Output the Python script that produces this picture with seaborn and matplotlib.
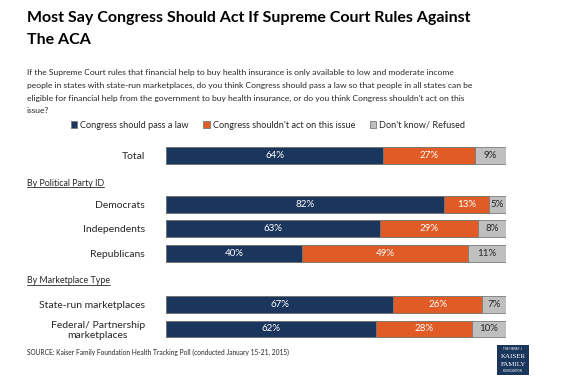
import matplotlib
matplotlib.use("Agg")
import matplotlib.pyplot as plt
import seaborn as sns
from matplotlib.patches import Patch, Rectangle
from matplotlib.lines import Line2D

# Data
groups = ["Total", "Democrats", "Independents", "Republicans",
          "State-run marketplaces", "Federal/ Partnership\nmarketplaces"]
should_pass = [64, 82, 63, 40, 67, 62]
shouldnt_act = [27, 13, 29, 49, 26, 28]
dont_know = [9, 5, 8, 11, 7, 10]
series_names = ["Congress should pass a law", "Congress shouldn't act on this issue",
                "Don't know/ Refused"]
headings = ["By Political Party ID", "By Marketplace Type"]

# layout (row positions on the y axis, with gaps for the section headings)
row_pos = [0, 2, 3, 4, 6.1, 7.1]
heading_pos = [1.14, 5.14]

navy = "#1B365D"
orange = "#E05B25"
grey = "#BFBFBF"
edge = "#7a7a7a"

sns.set_style("white")
plt.rcParams["font.family"] = ["Lato", "DejaVu Sans"]

fig = plt.figure(figsize=(5.7, 3.8), dpi=100)
ax = fig.add_axes([0.291, 0.102, 0.596, 0.522])

# stacked bars: draw cumulative totals back to front
cum2 = [a + b for a, b in zip(should_pass, shouldnt_act)]
cum3 = [a + b + c for a, b, c in zip(should_pass, shouldnt_act, dont_know)]
for vals, col in [(cum3, grey), (cum2, orange), (should_pass, navy)]:
    sns.barplot(x=vals, y=row_pos, orient="y", native_scale=True, color=col,
                width=0.69, edgecolor=edge, linewidth=0.6, saturation=1,
                errorbar=None, ax=ax)

# value labels
for i, y in enumerate(row_pos):
    a, b, c = should_pass[i], shouldnt_act[i], dont_know[i]
    ax.text(a / 2, y, f"{a}%", ha="center", va="center", color="white", fontsize=7)
    ax.text(a + b / 2, y, f"{b}%", ha="center", va="center", color="white", fontsize=7)
    ax.text(a + b + c / 2, y, f"{c}%", ha="center", va="center", color="#262626", fontsize=7)

ax.set_xlim(0, 100)
ax.set_ylim(7.6, -0.5)
ax.set_yticks(row_pos)
ax.set_yticklabels(groups, fontsize=7.5, color="#262626", linespacing=1.2)
ax.set_xticks([])
ax.tick_params(axis="y", length=0, pad=15)
for lbl in ax.get_yticklabels():
    if "\n" in lbl.get_text():
        lbl.set_multialignment("center")
for s in ax.spines.values():
    s.set_visible(False)
ax.set_xlabel("")
ax.set_ylabel("")

# section headings (underlined)
fig.canvas.draw()
rend = fig.canvas.get_renderer()
for h, yp in zip(headings, heading_pos):
    yf = ax.transData.transform((0, yp))[1] / fig.bbox.height
    t = fig.text(0.047, yf, h, fontsize=6.4, color="#262626", va="center", ha="left")
    bb = t.get_window_extent(rend)
    x0, x1 = bb.x0 / fig.bbox.width, bb.x1 / fig.bbox.width
    yl = (bb.y0 + 0.5) / fig.bbox.height
    fig.add_artist(Line2D([x0, x1], [yl, yl], color="#262626", lw=0.6))

# title and question
fig.text(0.047, 0.97, "Most Say Congress Should Act If Supreme Court Rules Against\nThe ACA",
         fontsize=11.5, fontweight="bold", va="top", ha="left", color="black", linespacing=1.72)
question = ("If the Supreme Court rules that financial help to buy health insurance is only available to low and moderate income\n"
            "people in states with state-run marketplaces, do you think Congress should pass a law so that people in all states can be\n"
            "eligible for financial help from the government to buy health insurance, or do you think Congress shouldn't act on this\n"
            "issue?")
fig.text(0.047, 0.818, question, fontsize=6.1, va="top", ha="left", color="#262626",
         linespacing=1.95)

# legend
handles = [Patch(facecolor=c, edgecolor=edge, linewidth=0.6) for c in (navy, orange, grey)]
fig.legend(handles, series_names, loc="center", bbox_to_anchor=(0.47, 0.671), ncol=3,
           frameon=False, fontsize=6.6, handlelength=0.7, handleheight=0.7,
           handletextpad=0.3, columnspacing=1.6)

# source
fig.text(0.047, 0.072, "SOURCE: Kaiser Family Foundation Health Tracking Poll (conducted January 15-21, 2015)",
         fontsize=4.8, va="center", ha="left", color="#262626")

# logo
fig.add_artist(Rectangle((0.872, 0.013), 0.056, 0.08, transform=fig.transFigure,
                         facecolor=navy, edgecolor="none"))
fig.text(0.900, 0.082, "THE HENRY J.", fontsize=2.2, color="white", ha="center", va="center")
fig.text(0.900, 0.062, "KAISER", fontsize=5, color="white", ha="center", va="center",
         family="Liberation Serif")
fig.text(0.900, 0.041, "FAMILY", fontsize=5, color="white", ha="center", va="center",
         family="Liberation Serif")
fig.text(0.900, 0.024, "FOUNDATION", fontsize=2.2, color="white", ha="center", va="center")

fig.savefig("out.png", dpi=100)
